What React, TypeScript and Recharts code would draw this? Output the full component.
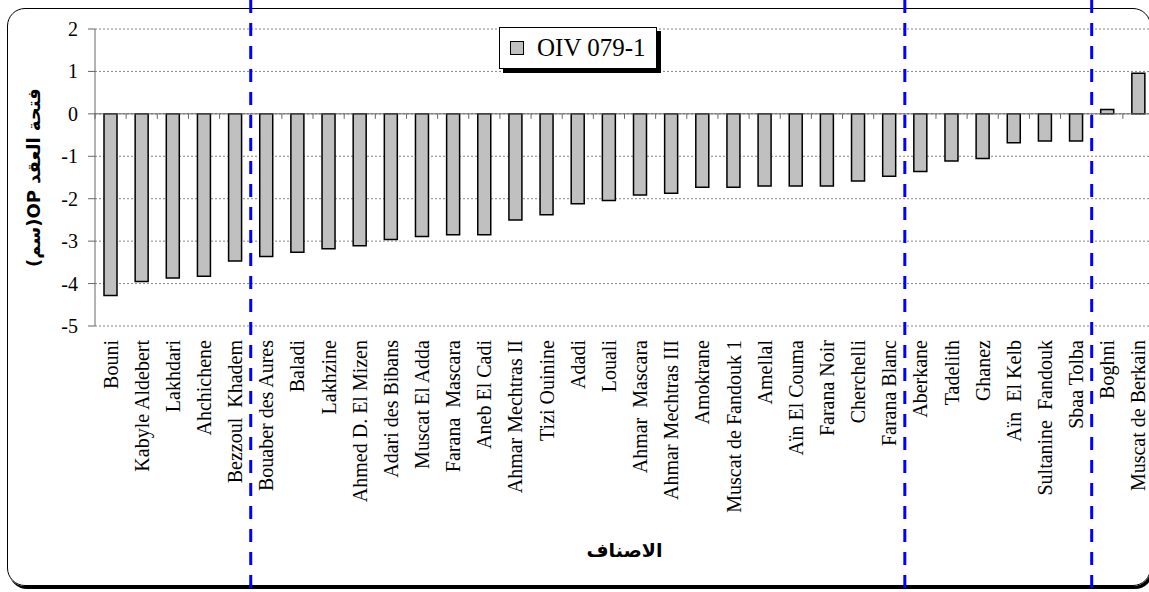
import React from 'react';
import { BarChart, Bar, XAxis, YAxis, CartesianGrid, ReferenceLine, Legend } from 'recharts';

// cultivars, sorted from the most negative value
const cultivars = [
    'Bouni', 'Kabyle Aldebert', 'Lakhdari', 'Ahchichene', 'Bezzoul  Khadem',
    'Bouaber des Aures', 'Baladi', 'Lakhzine', 'Ahmed D. El Mizen', 'Adari des Bibans',
    'Muscat El Adda', 'Farana  Mascara', 'Aneb El Cadi', 'Ahmar Mechtras II', 'Tizi Ouinine',
    'Adadi', 'Louali', 'Ahmar  Mascara', 'Ahmar Mechtras III', 'Amokrane',
    'Muscat de Fandouk 1', 'Amellal', 'Aïn El Couma', 'Farana Noir', 'Cherchelli',
    'Farana Blanc', 'Aberkane', 'Tadelith', 'Ghanez', 'Aïn  El Kelb',
    'Sultanine  Fandouk', 'Sbaa Tolba', 'Boghni', 'Muscat de Berkain',
];

const opValues = [
    -4.28, -3.95, -3.87, -3.83, -3.47,
    -3.36, -3.26, -3.18, -3.11, -2.96,
    -2.89, -2.85, -2.85, -2.50, -2.38,
    -2.12, -2.04, -1.91, -1.87, -1.73,
    -1.73, -1.70, -1.70, -1.70, -1.58,
    -1.47, -1.36, -1.11, -1.05, -0.68,
    -0.64, -0.64, 0.10, 0.96,
];

const yTicks = [-5, -4, -3, -2, -1, 0, 1, 2];

// first cultivar of each group after a blue separator
const groupStarts = ['Bouaber des Aures', 'Aberkane', 'Boghni'];

const SERIES_NAME = 'OIV 079-1';
const Y_TITLE = 'فتحة العقد OP(سم)';
const X_TITLE = 'الاصناف';

const SERIF = "'Liberation Serif', 'Times New Roman', serif";

const data = cultivars.map((name, i) => ({ name, value: opValues[i] }));

const CategoryTick = ({ x, y, payload }: any) => (
    <text
        x={x}
        y={y}
        transform={`rotate(-90, ${x}, ${y})`}
        textAnchor="end"
        dy="0.35em"
        fontFamily={SERIF}
        fontSize={20}
        fill="#000"
        style={{ whiteSpace: 'pre' }}
    >
        {payload.value}
    </text>
);

const ValueTick = ({ x, y, payload }: any) => (
    <text x={x} y={y} dy="0.35em" textAnchor="end" fontFamily={SERIF} fontSize={20} fill="#000">
        {payload.value}
    </text>
);

const YTitle = ({ viewBox }: any) => {
    const cx = 33;
    const cy = viewBox.y + viewBox.height / 2;
    return (
        <text
            x={cx}
            y={cy}
            transform={`rotate(-90, ${cx}, ${cy})`}
            textAnchor="middle"
            dominantBaseline="central"
            fontFamily="'DejaVu Sans', sans-serif"
            fontWeight="bold"
            fontSize={18}
            fill="#000"
            style={{ direction: 'rtl' }}
        >
            {Y_TITLE}
        </text>
    );
};

const XTitle = ({ viewBox }: any) => (
    <text
        x={viewBox.x + viewBox.width / 2}
        y={viewBox.y + 224}
        textAnchor="middle"
        dominantBaseline="central"
        fontFamily="'DejaVu Sans', sans-serif"
        fontWeight="bold"
        fontSize={19}
        fill="#000"
    >
        {X_TITLE}
    </text>
);

// zero line with the small category tick marks under it
const ZeroLine = (p: any) => {
    const n = cultivars.length;
    const step = (p.x2 - p.x1) / n;
    return (
        <g>
            <line x1={p.x1} y1={p.y1} x2={p.x2} y2={p.y2} stroke="#666" strokeWidth={1} />
            {Array.from({ length: n + 1 }, (_, i) => (
                <line
                    key={i}
                    x1={p.x1 + i * step}
                    x2={p.x1 + i * step}
                    y1={p.y1}
                    y2={p.y1 + 5}
                    stroke="#666"
                    strokeWidth={1}
                />
            ))}
        </g>
    );
};

const GroupSeparator = (p: any) => (
    <line x1={p.x1} x2={p.x1} y1={0} y2={592} stroke="#0000ff" strokeWidth={3} strokeDasharray="13 10" />
);

const LegendBox = () => (
    <div
        style={{
            width: 156,
            height: 40,
            border: '1px solid #000',
            background: '#fff',
            boxShadow: '4px 4px 0 #000',
            display: 'flex',
            alignItems: 'center',
            fontFamily: SERIF,
            fontSize: 25,
            color: '#000',
        }}
    >
        <span
            style={{
                display: 'inline-block',
                width: 12,
                height: 12,
                border: '1px solid #000',
                background: '#c0c0c0',
                marginLeft: 10,
                marginRight: 13,
            }}
        />
        <span>{SERIES_NAME}</span>
    </div>
);

const App: React.FC = () => {
    return (
        <div style={{ position: 'absolute', left: 0, top: 0, width: 1149, height: 592, overflow: 'hidden', background: '#fff' }}>
            <div
                style={{
                    position: 'absolute',
                    left: 7,
                    top: 8,
                    right: -2,
                    height: 576,
                    border: '1px solid #000',
                    borderRadius: 18,
                    boxShadow: '2px 3px 0 #000',
                }}
            />
            <div style={{ position: 'absolute', left: 0, top: 0 }}>
                <BarChart width={1156} height={592} data={data} margin={{ top: 29, right: 2, bottom: 0, left: 0 }}>
                    <CartesianGrid vertical={false} stroke="#888" strokeDasharray="2 2" />
                    <XAxis
                        dataKey="name"
                        interval={0}
                        height={266}
                        tickLine={false}
                        axisLine={false}
                        tickSize={0}
                        tickMargin={14}
                        tick={<CategoryTick />}
                        label={{ content: XTitle }}
                    />
                    <YAxis
                        domain={[-5, 2]}
                        ticks={yTicks}
                        interval={0}
                        width={95}
                        axisLine={{ stroke: '#666' }}
                        tickLine={{ stroke: '#666' }}
                        tickSize={7}
                        tickMargin={10}
                        tick={<ValueTick />}
                        label={{ content: YTitle }}
                    />
                    <Legend
                        layout="vertical"
                        align="center"
                        verticalAlign="middle"
                        content={<LegendBox />}
                        wrapperStyle={{ left: 499, top: 27, width: 'auto', height: 'auto' }}
                    />
                    <ReferenceLine y={0} shape={ZeroLine} />
                    <Bar
                        dataKey="value"
                        name={SERIES_NAME}
                        fill="#c0c0c0"
                        stroke="#000"
                        strokeWidth={1.5}
                        barSize={13}
                        isAnimationActive={false}
                    />
                    {groupStarts.map((c) => (
                        <ReferenceLine key={c} x={c} position="start" shape={GroupSeparator} />
                    ))}
                </BarChart>
            </div>
        </div>
    );
};

export default App;
